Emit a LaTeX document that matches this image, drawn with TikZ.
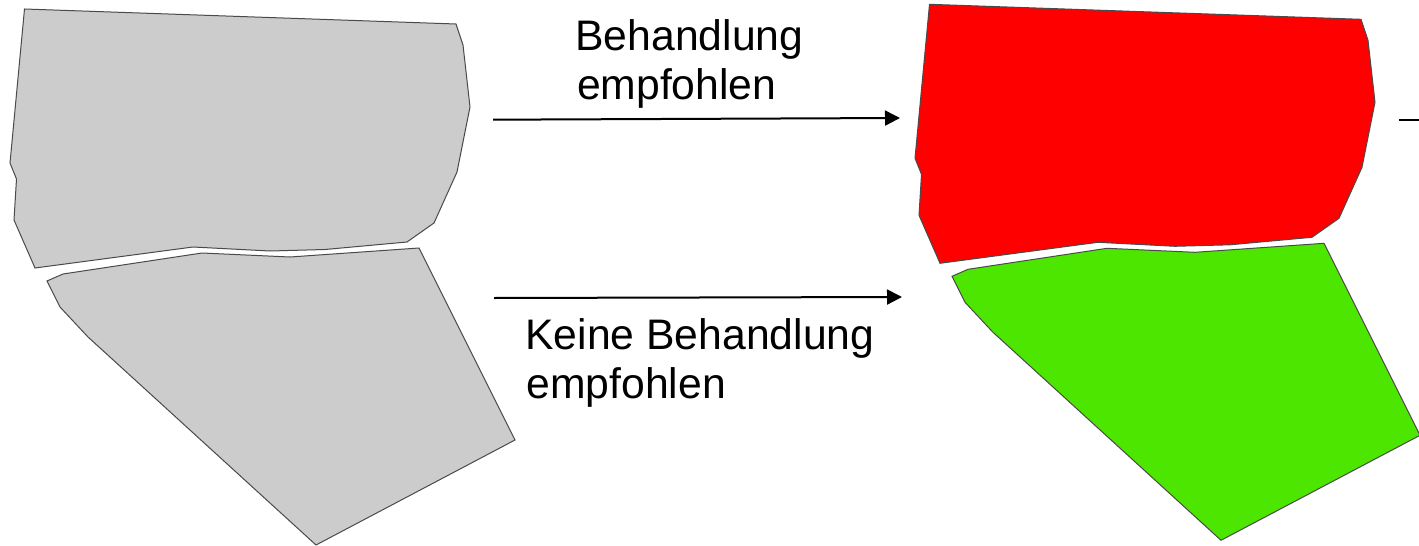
\documentclass[tikz,border=0pt]{standalone}
\usepackage{fontspec}
\setmainfont{Liberation Sans}
\usetikzlibrary{arrows.meta}
\definecolor{fieldgray}{HTML}{CCCCCC}
\definecolor{fieldred}{HTML}{FF0000}
\definecolor{fieldgreen}{HTML}{4DE600}
\definecolor{fieldedge}{HTML}{4A4A4A}
\tikzset{
  field/.style={draw=fieldedge,line width=1pt,line join=miter},
  flow/.style={draw=black,line width=2pt,-{Triangle[length=15pt,width=15pt]}},
  stub/.style={draw=black,line width=2pt},
  caption/.style={inner sep=0pt,outer sep=0pt,anchor=base west,align=left,font=\fontsize{42.7}{49}\selectfont},
}
\newcommand{\upperfield}{(24.5,9) -- (456,24) -- (463,45) -- (470,107) -- (457,172) -- (434,223) -- (407,242) -- (325,249.5) -- (270,251) -- (193,247) -- (35,268) -- (14,220) -- (16.5,179) -- (10,163) -- cycle}
\newcommand{\lowerfield}{(47,281) -- (63,274) -- (202,253) -- (290,257) -- (419,248) -- (515,440) -- (316,545) -- (88,337) -- (60,307) -- cycle}
\begin{document}
\begin{tikzpicture}[x=1pt,y=-1pt]
\useasboundingbox (0,0) rectangle (1419,546);
\path[field,fill=fieldgray] \upperfield;
\path[field,fill=fieldgray] \lowerfield;
\begin{scope}[xshift=905pt,yshift=4.7pt]
\path[field,fill=fieldred] \upperfield;
\path[field,fill=fieldgreen] \lowerfield;
\end{scope}
\coordinate (a1) at (493,119.7);
\coordinate (b1) at (900,118);
\coordinate (a2) at (494,298);
\coordinate (b2) at (902,297);
\coordinate (a3) at (1399,120);
\coordinate (b3) at (1419,120);
\draw[flow] (a1) -- (b1);
\draw[flow] (a2) -- (b2);
\draw[stub] (a3) -- (b3);
\node[caption] (t1a) at (575.5,50) {Behandlung};
\node[caption] (t1b) at (577,99.5) {empfohlen};
\node[caption] (t2a) at (525.5,349) {Keine Behandlung};
\node[caption] (t2b) at (526.5,398.5) {empfohlen};
\end{tikzpicture}
\end{document}
